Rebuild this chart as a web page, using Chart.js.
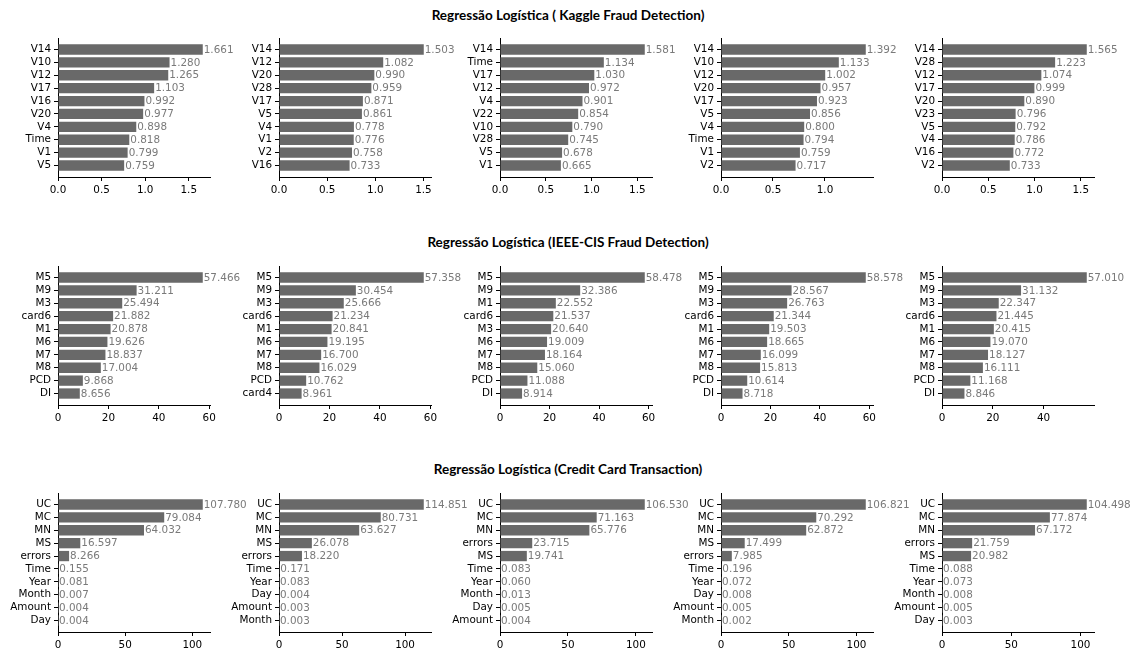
<!DOCTYPE html>
<html>
<head>
<meta charset="utf-8">
<script src="https://cdn.jsdelivr.net/npm/chart.js@4.4.1/dist/chart.umd.min.js"></script>
<style>
  body { margin: 0; background: #fff; width: 1136px; height: 652px; position: relative; overflow: hidden; }
  .title { position: absolute; left: 0; width: 1136px; text-align: center; font: bold 13.5px Lato, sans-serif; color: #000; line-height: 16px; }
  canvas { position: absolute; }
</style>
</head>
<body>
<script>
// one title per row of panels
const titles = [
  "Regressão Logística ( Kaggle Fraud Detection)",
  "Regressão Logística (IEEE-CIS Fraud Detection)",
  "Regressão Logística (Credit Card Transaction)",
];

const kaggleFeatures = [
  ["V14", "V10", "V12", "V17", "V16", "V20", "V4", "Time", "V1", "V5"],
  ["V14", "V12", "V20", "V28", "V17", "V5", "V4", "V1", "V2", "V16"],
  ["V14", "Time", "V17", "V12", "V4", "V22", "V10", "V28", "V5", "V1"],
  ["V14", "V10", "V12", "V20", "V17", "V5", "V4", "Time", "V1", "V2"],
  ["V14", "V28", "V12", "V17", "V20", "V23", "V5", "V4", "V16", "V2"],
];
const kaggleScores = [
  [1.661, 1.28, 1.265, 1.103, 0.992, 0.977, 0.898, 0.818, 0.799, 0.759],
  [1.503, 1.082, 0.99, 0.959, 0.871, 0.861, 0.778, 0.776, 0.758, 0.733],
  [1.581, 1.134, 1.03, 0.972, 0.901, 0.854, 0.79, 0.745, 0.678, 0.665],
  [1.392, 1.133, 1.002, 0.957, 0.923, 0.856, 0.8, 0.794, 0.759, 0.717],
  [1.565, 1.223, 1.074, 0.999, 0.89, 0.796, 0.792, 0.786, 0.772, 0.733],
];

const ieeeFeatures = [
  ["M5", "M9", "M3", "card6", "M1", "M6", "M7", "M8", "PCD", "DI"],
  ["M5", "M9", "M3", "card6", "M1", "M6", "M7", "M8", "PCD", "card4"],
  ["M5", "M9", "M1", "card6", "M3", "M6", "M7", "M8", "PCD", "DI"],
  ["M5", "M9", "M3", "card6", "M1", "M6", "M7", "M8", "PCD", "DI"],
  ["M5", "M9", "M3", "card6", "M1", "M6", "M7", "M8", "PCD", "DI"],
];
const ieeeScores = [
  [57.466, 31.211, 25.494, 21.882, 20.878, 19.626, 18.837, 17.004, 9.868, 8.656],
  [57.358, 30.454, 25.666, 21.234, 20.841, 19.195, 16.7, 16.029, 10.762, 8.961],
  [58.478, 32.386, 22.552, 21.537, 20.64, 19.009, 18.164, 15.06, 11.088, 8.914],
  [58.578, 28.567, 26.763, 21.344, 19.503, 18.665, 16.099, 15.813, 10.614, 8.718],
  [57.01, 31.132, 22.347, 21.445, 20.415, 19.07, 18.127, 16.111, 11.168, 8.846],
];

const creditFeatures = [
  ["UC", "MC", "MN", "MS", "errors", "Time", "Year", "Month", "Amount", "Day"],
  ["UC", "MC", "MN", "MS", "errors", "Time", "Year", "Day", "Amount", "Month"],
  ["UC", "MC", "MN", "errors", "MS", "Time", "Year", "Month", "Day", "Amount"],
  ["UC", "MC", "MN", "MS", "errors", "Time", "Year", "Day", "Amount", "Month"],
  ["UC", "MC", "MN", "errors", "MS", "Time", "Year", "Month", "Amount", "Day"],
];
const creditScores = [
  [107.78, 79.084, 64.032, 16.597, 8.266, 0.155, 0.081, 0.007, 0.004, 0.004],
  [114.851, 80.731, 63.627, 26.078, 18.22, 0.171, 0.083, 0.004, 0.003, 0.003],
  [106.53, 71.163, 65.776, 23.715, 19.741, 0.083, 0.06, 0.013, 0.005, 0.004],
  [106.821, 70.292, 62.872, 17.499, 7.985, 0.196, 0.072, 0.008, 0.005, 0.002],
  [104.498, 77.874, 67.172, 21.759, 20.982, 0.088, 0.073, 0.008, 0.005, 0.003],
];

// x tick spacing and decimals per row
const tickSteps = [0.5, 20, 50];
const tickDecimals = [1, 0, 0];

// panel geometry (plot area of each subplot)
const colLeft = [58, 279, 500, 721, 942];
const rowTop = [38, 266, 493];
const titleTop = [7, 234, 461];
const plotW = 152;
const plotH = 139;
const labelW = 58;
const rightRoom = 62;
const bottomRoom = 26;

Chart.defaults.font.family = "'DejaVu Sans', sans-serif";
Chart.defaults.font.size = 10.4;
Chart.defaults.color = "#000";

const barValueLabels = {
  id: "barValueLabels",
  afterDatasetsDraw(chart) {
    const ctx = chart.ctx;
    const meta = chart.getDatasetMeta(0);
    const values = chart.data.datasets[0].data;
    ctx.save();
    ctx.font = "10.4px 'DejaVu Sans'";
    ctx.fillStyle = "#7a7a7a";
    ctx.textBaseline = "middle";
    ctx.textAlign = "left";
    meta.data.forEach((bar, i) => {
      ctx.fillText(values[i].x.toFixed(3), bar.x + 1, bar.y + 0.5);
    });
    ctx.restore();
  },
};

function createPanel(row, col, features, scores) {
  const canvas = document.createElement("canvas");
  canvas.width = labelW + plotW + rightRoom;
  canvas.height = plotH + bottomRoom;
  canvas.style.left = colLeft[col] - labelW + "px";
  canvas.style.top = rowTop[row] + "px";
  document.body.appendChild(canvas);

  const n = features.length;
  // matplotlib-like margins: bars 0.8 tall, 5% padding
  const span = n - 1 + 0.8;
  const pad = 0.05 * span;
  const xMax = Math.max(...scores) * 1.05;
  const step = tickSteps[row];

  new Chart(canvas, {
    type: "bar",
    data: {
      datasets: [
        {
          data: scores.map((v, i) => ({ x: v, y: i })),
          backgroundColor: "#696969",
          borderWidth: 0,
          barPercentage: 0.8,
          categoryPercentage: 1.0,
        },
      ],
    },
    options: {
      indexAxis: "y",
      responsive: false,
      animation: false,
      events: [],
      layout: { padding: { left: 0, right: rightRoom, top: 0, bottom: 0 } },
      plugins: { legend: { display: false }, tooltip: { enabled: false } },
      scales: {
        y: {
          type: "linear",
          offset: false,
          reverse: true,
          min: -0.4 - pad,
          max: n - 1 + 0.4 + pad,
          afterBuildTicks: (scale) => {
            scale.ticks = features.map((_, i) => ({ value: i }));
          },
          afterFit: (scale) => {
            scale.width = labelW;
            scale.paddingTop = 0;
            scale.paddingBottom = 0;
          },
          ticks: {
            autoSkip: false,
            padding: 3,
            callback: (v) => features[v],
          },
          grid: { offset: false, drawOnChartArea: false, tickLength: 4, color: "#000" },
          border: { display: true, color: "#000", width: 1 },
        },
        x: {
          type: "linear",
          min: 0,
          max: xMax,
          afterBuildTicks: (scale) => {
            const ticks = [];
            for (let v = 0; v <= xMax + 1e-9; v += step) ticks.push({ value: v });
            scale.ticks = ticks;
          },
          afterFit: (scale) => {
            scale.height = bottomRoom;
            scale.paddingLeft = 0;
            scale.paddingRight = 0;
          },
          ticks: {
            padding: 3,
            maxRotation: 0,
            callback: (v) => v.toFixed(tickDecimals[row]),
          },
          grid: { drawOnChartArea: false, tickLength: 4, color: "#000" },
          border: { display: true, color: "#000", width: 1 },
        },
      },
    },
    plugins: [barValueLabels],
  });
}

titles.forEach((t, r) => {
  const div = document.createElement("div");
  div.className = "title";
  div.style.top = titleTop[r] + "px";
  div.textContent = t;
  document.body.appendChild(div);
});

const rowFeatures = [kaggleFeatures, ieeeFeatures, creditFeatures];
const rowScores = [kaggleScores, ieeeScores, creditScores];
for (let r = 0; r < 3; r++) {
  for (let c = 0; c < 5; c++) {
    createPanel(r, c, rowFeatures[r][c], rowScores[r][c]);
  }
}
</script>
</body>
</html>
